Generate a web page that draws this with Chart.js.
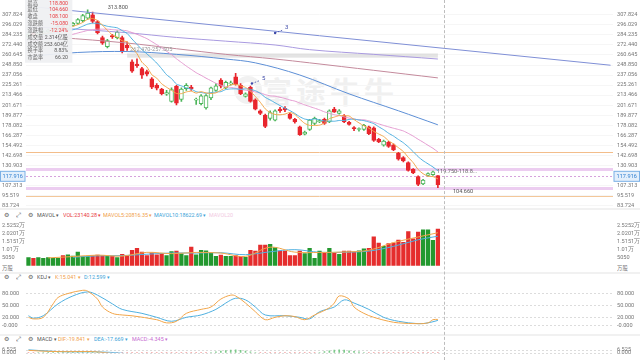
<!DOCTYPE html>
<html><head><meta charset="utf-8">
<script src="https://cdn.jsdelivr.net/npm/chart.js@4.4.1/dist/chart.umd.min.js"></script>
<style>
html,body{margin:0;padding:0}
body{width:640px;height:360px;overflow:hidden;background:#fff;position:relative;font-family:Roboto,"Noto Sans CJK SC",sans-serif}
canvas{position:absolute;left:0}
.hdr{position:absolute;left:0;width:640px;height:10px;font-size:6px;line-height:10px;color:#666;white-space:nowrap}
.hdr span{position:absolute;top:0;transform:scale(0.9);transform-origin:0 50%}
.sep{position:absolute;left:0;width:640px;height:2px;background:#f1f1f1}
#info{position:absolute;left:25px;top:0;width:55px;height:73px;background:rgba(239,240,242,0.94);font-size:6px;color:#666;transform:scale(0.86);transform-origin:0 0}
#info div{position:absolute;left:3px;width:47px;height:8px;line-height:8px;white-space:nowrap}
#info b{font-weight:normal;position:absolute;right:0;top:0}
#wm{position:absolute;left:262px;top:70px;font-size:30px;line-height:40px;color:#f0f0f0;letter-spacing:4px;font-family:"Noto Sans CJK SC";font-weight:bold}
#logo{position:absolute;left:234px;top:76px;width:16px;height:16px;border:6px solid #f1f1f1;border-radius:50%}
#cross{position:absolute;top:0;height:360px;width:0;border-left:1px dashed #bdbdbd}
</style></head><body>
<div id="logo"></div><div id="wm">富途牛牛</div>
<div class="sep" style="top:208px"></div>
<div class="sep" style="top:272px"></div>
<div class="sep" style="top:334px"></div>
<div class="hdr" style="top:210px"><span style="left:4px;font-size:7px">⚙</span><span style="left:16px;font-size:7px">⤢</span><span style="left:28px;font-size:7px">⚙</span><span style="left:37px;color:#555">MAVOL ▾</span><span style="left:63px;color:#e8383d">VOL:23140.28 ▾</span><span style="left:103px;color:#f0a04b">MAVOL5:20816.35 ▾</span><span style="left:154px;color:#3ba3d8">MAVOL10:18622.69 ▾</span><span style="left:209px;color:#f2c9e2">MAVOL20</span></div>
<div class="hdr" style="top:272px"><span style="left:4px;font-size:7px">⚙</span><span style="left:16px;font-size:7px">⤢</span><span style="left:28px;font-size:7px">⚙</span><span style="left:37px;color:#555">KDJ ▾</span><span style="left:55px;color:#f0a04b">K:15.041 ▾</span><span style="left:84px;color:#3ba3d8">D:12.599 ▾</span></div>
<div class="hdr" style="top:334px"><span style="left:4px;font-size:7px">⚙</span><span style="left:16px;font-size:7px">⤢</span><span style="left:28px;font-size:7px">⚙</span><span style="left:37px;color:#555">MACD ▾</span><span style="left:58px;color:#f0a04b">DIF:-19.841 ▾</span><span style="left:94px;color:#3ba3d8">DEA:-17.669 ▾</span><span style="left:132px;color:#c66bd0">MACD:-4.345 ▾</span></div>
<div class="hdr" style="top:263px;width:auto;left:2px;color:#777"><span style="left:0">万股</span></div>
<div class="hdr" style="top:263px;width:auto;left:617px;color:#777"><span style="left:0">万股</span></div>
<canvas id="cMain" width="640" height="214" style="top:0"></canvas>
<canvas id="cVol" width="640" height="57" style="top:216px"></canvas>
<canvas id="cKdj" width="640" height="56" style="top:279px"></canvas>
<canvas id="cMacd" width="640" height="19" style="top:341px"></canvas>
<div id="info"></div>
<div id="cross"></div>
<script>
// ---------------- data ----------------
const N_SLOTS = 119;
const opens  = [282,286,283,286,288,289.5,291.5,294,291,295.5, 297.9,301,304,308,300,281,270.5,283.5,281,281, 272,252.5,250,244.8,241,232.6,225,220.5,214.5,206, 223.8,208.3,221,223,207.5,203.5,198.5,210,219,231, 222,226.5,235,225,212,222.7,208,195,190,186, 184,197,198,191,185,176,167.5,173,180,182, 185,182,197,192,189.5,181.5,175,173,173,176, 175,161.5,154.5,158,155,145,140,134,126,117.5, 109,119,120,118.8];
const highs  = [286.5,287,287,289.5,291,293,295,295.5,297,299, 303.4,308.5,313.8,311,301,283,279,285,289,283, 276,255,256,246,243,234,227,221.5,219,222, 225,222,227,225,210,214,214,223,227,233, 230,230,239,227,216,224,209,196,191,195, 196,199,200,192,186,177,171,185,187.5,185, 186.5,196,199,196.5,190.5,182.5,176.5,175,179,177, 176,162.5,160.5,159,156,146,141,135,127,118.5, 114.5,122,124,118.8];
const lows   = [281,282,282,285,287,289,290.5,290,290,294.5, 296.8,299.5,302.5,298.5,285.5,273,269,280,279.5,263, 266,240,246,233,236,221,219.5,213.8,213,205, 202,206,219,219,202.5,202,197,208,218,222, 221,225,225,214,211,205,196,190.5,175,184, 183,193,194,185,180.5,166,166.5,172,178.5,181, 179,181,193,191,181,178,171.5,171,172,167, 159,157.5,153.5,152,148,137,135,124,121,107, 108,118,119,104.66];
const closes = [285,283,286,288,290,292,294,291,296,298, 302.3,307,310,300,287,274.5,277.5,282,287.5,265, 269,241.5,248,237,238,222.7,221.5,215,216.5,220, 203.9,220.5,225,221,208.5,212.5,213,222,224.5,224, 228.5,228,226,215,215,206,197,192,176.5,193, 195,195,196,186,182,167,170,184,186,183.5, 180,195,193.5,195,182,179,174,174,178,168, 160,158.5,159.5,153,149,138,136,125,122,108.5, 113.5,121,123.18,108.1];
const volumes = [5050,4700,5050,4700,5050,4700,4700,6400,6900,6060, 8585,5900,5900,6200,6700,6200,5900,5900,5050,7200, 6400,9750,10960,8585,6400,8080,6900,7575,6400,8940, 9240,7575,6400,11770,6900,9750,9440,8080,5900,6700, 5900,5900,6400,5900,5200,9750,9240,12980,12980,13480, 11460,9240,9240,6400,6400,9240,7575,10960,4700,9240, 8080,10960,7730,7220,9240,9240,8585,9440,10600,10960, 18180,14300,12270,13990,14300,16160,14800,21560,17000,21210, 22720,22720,16000,23140.28];
const ma5  = [284,284,284.5,285.5,286.4,287.8,290,291,292.6,294.2,296.3,298.9,302.7,303.5,301.3,295.7,289.8,284.2,281.7,277.3,276.2,269,262.2,252.1,246.7,237.4,233.4,226.8,222.7,219.1,215.4,215.2,217.2,218.1,215.8,217.5,216,215.4,216.1,219.2,222.4,225.4,226.2,224.3,222.5,218,211.8,205,197.3,192.9,190.7,190.3,191.1,193,190.8,185.2,180.2,177.8,177.8,178.1,180.7,185.7,187.6,189.4,189.1,188.9,184.7,180.8,177.4,174.6,170.8,167.7,164.8,159.8,156,151.6,147.1,140.2,134,125.9,121,118,117.6,114.9];
const ma10 = [283,283.5,284,284.5,285.5,286.5,287.5,288.5,289.5,290.3,292,294.5,296.9,298,297.8,296,294.4,293.5,292.6,289.3,286,279.4,273.2,266.9,262,256.8,251.2,244.5,237.4,232.9,226.4,224.3,222,220.4,217.5,216.5,215.6,216.3,217.1,217.5,220,220.7,220.8,220.2,220.9,220.2,218.6,215.6,210.8,207.7,204.4,201.1,198.1,195.2,191.9,188,185.3,184.5,185.4,184.5,183,183,182.7,183.6,183.6,184.8,185.2,184.2,183.4,181.9,179.9,176.2,172.8,168.6,165.3,161.2,157.4,152.5,146.9,141,136.3,132.6,128.9,124.5];
const ma20 = [276,277,278,279,280,281,282,283,284,285,286.5,288,289.5,290.5,291,291,291,290.5,290,289.8,289,287,285,282.5,279.9,276.4,272.8,269,265,261.1,256.2,251.9,247.6,243.7,239.8,236.7,233.4,230.4,227.3,225.2,223.2,222.5,221.4,220.3,219.2,218.4,217.1,216,214,212.6,212.2,210.9,209.5,207.7,206.4,204.1,202,200,198.1,196.1,193.7,192,190.4,189.4,187.8,186.4,185.3,184.4,184.4,183.2,181.5,179.6,177.8,176.1,174.5,173,171.3,168.4,165.2,161.5,158.1,154.4,150.9,146.6];
const ma60Idx  = [0,10,20,30,40,46,55,65,75,83];
const ma60Val  = [259,263.6,264.7,261.4,255.9,251.4,237.1,214.9,195,178.5];
const ma120Idx = [0,6,20,30,40,50,57,70,83];
const ma120Val = [283.5,281.3,274.7,268,261.4,255.9,251.4,242.6,233.7];
const ma250Idx = [0,6,20,30,40,50,57,70,83];
const ma250Val = [293.4,292.3,286.8,281.3,276.9,272.4,266.9,261.4,255.9];
const trendIdx = [0,118];
const trendVal = [318,248.6];
const levels = [146.1,126.8,104.4,95.2];
const band = {from:20,to:83,low:257.505,high:262.47};
const lastPrice = 117.916;
const priceTicks = [307.824,296.029,284.235,272.440,260.645,248.850,237.056,225.261,213.466,201.671,189.877,178.082,166.287,154.492,142.698,130.903,107.313,95.519,83.724];
const volTicks = [5050,10100,15151,20201,25252];
const volTickLabels = ['5050','1.01万','1.5151万','2.0201万','2.5252万'];
const mavol5Idx = [4,9,14,19,24,29,34,39,44,49,54,59,64,69,74,79,83];
const mavol5Val = [4910,5752,6657,6050,8419,7579,8377,7974,5860,11686,8548,8343,8646,9765,14608,18146,20816.35];
const mavol10Idx = [9,14,19,24,29,34,39,44,49,54,59,64,69,74,79,83];
const mavol10Val = [5331,6205,6354,7235,7999,7978,8176,6917,8773,10117,8446,8495,9206,12187,16377,18622.69];
const kIdx = [0,1,3,5,6,8,11,12,14,15,17,19,21,26,28,30,32,35,37,39,41,42,44,46,48,50,52,54,56,58,61,62,63,65,66,68,70,73,75,79,81,82,83];
const kVal = [20.2,16.3,20.2,53.5,69.2,79,86.9,84.9,65.3,45.7,30,26,24,14.3,6.5,10.4,30,39.8,45.7,65.3,75,73,55.5,34,14.3,20.2,24.1,22,14.3,26,43.7,55.5,73,65.3,45.7,30,20.2,10.4,6.5,4.5,6.5,14.3,15.041];
const dIdx = [0,1,3,6,9,12,14,17,19,23,26,29,32,35,38,40,42,44,46,48,52,55,57,59,62,64,66,69,72,75,79,81,83];
const dVal = [24.1,18.2,24.1,53.5,73,83,75,53.5,39.8,30,20.2,10.4,20.2,26,39.8,55.5,67.3,63.3,45.7,26,24.1,20.2,16.3,34,45.7,63.3,55.5,39.8,20.2,10.4,4.5,6.5,12.599];
const kdjTicks = [0,20,50,80];
const kdjTickLabels = ['-0.000','20.000','50.000','80.000'];
const macdHist = [-0.5,-0.3,0,0.2,0.5,0.8,1.1,1.4,1.7,2.0,2.3,2.5,2.2,1.4,0.4,-1.5,-3,-4,-4.5,-5.5,-6,-7.5,-8,-8.5,-8.5,-9,-8.5,-8,-7,-6,-6,-5,-4,-3,-2.5,-1.5,-0.5,0.1,1.7,3.6,5.1,6.3,7.0,5.8,4.0,1.7,0.1,-1.5,-3.5,-4,-4,-3.5,-3,-3.5,-4,-5,-5,-4,-2,0.1,2.4,4.6,6.3,7.0,6.3,4.6,3.2,1.7,0.1,-1.5,-3,-4,-4.5,-5,-5.5,-6.5,-7,-8,-8,-9,-7.5,-6,-5,-4.345];
const difIdx = [0,4,8,12,14,16,20,25,35,45,55,65,75,83];
const difVal = [5.5,3,2.2,2.6,1.5,-1,-8,-18,-22,-16,-20,-14,-22,-19.841];
const deaIdx = [0,4,8,12,14,16,18,20,25,35,45,55,65,75,83];
const deaVal = [6.8,3.8,1.6,1.7,1.6,0.8,-0.5,-3,-12,-20,-18,-18,-17,-18,-17.669];
const macdTicks = [0,6.525];
const macdTickLabels = ['0.000','6.525'];
const infoLabels = ['最高','最低','收盘','涨跌额','涨跌幅','成交量','成交额','换手率','市盈率'];
const infoValues = ['118.800','104.660','108.100','-15.080','-12.24%','2.314亿股','253.604亿','8.83%','66.20'];
const infoRed = [1,1,1,1,1,0,0,0,0];

// ---------------- helpers ----------------
const RED='#e8262d', HGREEN='#4cb55a';
const labels = Array.from({length:N_SLOTS},(_,i)=>String(i));
const pad = arr => { const a=new Array(N_SLOTS).fill(null); arr.forEach((v,i)=>a[i]=v); return a; };
const sparse = (idx,val) => { const a=new Array(N_SLOTS).fill(null); idx.forEach((k,j)=>a[k]=val[j]); return a; };
const up = closes.map((c,i)=>c>=opens[i]);
const FONT = {family:'Roboto', size:5.6};
const TICKC = '#777';
const lineDs = (data,color,extra={}) => Object.assign({type:'line',data,borderColor:color,borderWidth:1,pointRadius:0,tension:0.35,spanGaps:true,fill:false,order:-1},extra);

function yAxis(pos,min,max,ticks,labelFn,extra={}){
  return Object.assign({
    position:pos,min,max,
    afterFit:s=>{s.width = pos==='left'?24:27;},
    afterBuildTicks:s=>{s.ticks = ticks.map(v=>({value:v}));},
    ticks:{autoSkip:false,font:FONT,color:TICKC,padding:pos==='left'?0:4,crossAlign:pos==='left'?'far':'near',callback:labelFn},
    grid:{display:false,drawTicks:false},
    border:{display:false}
  },extra);
}
const baseOpts = (pad) => ({
  responsive:false,animation:false,devicePixelRatio:1,
  layout:{padding:Object.assign({left:2,right:0,top:0,bottom:0},pad)},
  plugins:{legend:{display:false},tooltip:{enabled:false}},
});

// ---------------- main chart ----------------
const P_MAX = 316.67, P_MIN = 316.67 - 212/0.90436;
const mainPlugin = {
  id:'mainOverlay',
  beforeDatasetsDraw(chart){
    const {ctx,chartArea:a,scales:{x,y}} = chart;
    ctx.save();
    ctx.beginPath(); ctx.rect(a.left,a.top,a.right-a.left,a.bottom-a.top); ctx.clip();
    const bx0=x.getPixelForValue(band.from), bx1=x.getPixelForValue(band.to);
    const by0=y.getPixelForValue(band.high), by1=y.getPixelForValue(band.low);
    ctx.fillStyle='rgba(205,205,205,0.55)'; ctx.fillRect(bx0,by0,bx1-bx0,by1-by0);
    const lc=['#f3bd8a','#eccdf0','#eccdf0','#f3c79a'], lw=[1,3,3,1];
    levels.forEach((v,i)=>{const py=Math.round(y.getPixelForValue(v))+0.5;ctx.strokeStyle=lc[i];ctx.lineWidth=lw[i];ctx.beginPath();ctx.moveTo(a.left,py);ctx.lineTo(a.right,py);ctx.stroke();});
    const py=Math.round(y.getPixelForValue(lastPrice))+0.5;
    ctx.setLineDash([2,2]); ctx.strokeStyle='#d6a2dc'; ctx.lineWidth=1;
    ctx.beginPath();ctx.moveTo(a.left,py);ctx.lineTo(a.right,py);ctx.stroke();
    ctx.restore();
  },
  afterDatasetsDraw(chart){
    const {ctx,scales:{x,y}} = chart;
    ctx.save();
    ctx.font='5.6px Roboto'; ctx.textBaseline='middle';
    const hiIdx = highs.indexOf(Math.max(...highs));
    ctx.fillStyle='#555'; ctx.fillText(Math.max(...highs).toFixed(3), x.getPixelForValue(hiIdx)+20, y.getPixelForValue(Math.max(...highs))-2);
    ctx.fillStyle='#999'; ctx.fillText(band.high.toFixed(3)+'-'+band.low.toFixed(3), x.getPixelForValue(band.from)+3, y.getPixelForValue(band.high)-4);
    const L = closes.length-1;
    ctx.fillStyle='#666'; ctx.fillText('119.750-118.8...', x.getPixelForValue(L)-1, y.getPixelForValue(119.75)-3);
    ctx.fillStyle='#555'; ctx.fillText(lows[L].toFixed(3), x.getPixelForValue(L)+15, y.getPixelForValue(lows[L])+4);
    const tAt = k => trendVal[0]+(trendVal[1]-trendVal[0])*(k-trendIdx[0])/(trendIdx[1]-trendIdx[0]);
    const marks=[{k:50,v:tAt(50)-2,t:'3'},{k:45.3,v:227.1,t:'5'}];
    marks.forEach(m=>{const px=x.getPixelForValue(m.k),py=y.getPixelForValue(m.v);
      ctx.fillStyle='#3e4aa8';ctx.beginPath();ctx.arc(px,py,1.2,0,Math.PI*2);ctx.fill();
      ctx.strokeStyle='#3e4aa8';ctx.setLineDash([1.5,1.5]);ctx.lineWidth=0.8;ctx.beginPath();ctx.moveTo(px,py);ctx.lineTo(px+8,py-3);ctx.stroke();ctx.setLineDash([]);
      ctx.font='6px Roboto';ctx.fillText(m.t,px+10,py-5);});
    ctx.restore();
  },
  afterDraw(chart){
    const {ctx,chartArea:a,scales:{y}} = chart;
    const py=y.getPixelForValue(lastPrice);
    ctx.save(); ctx.font='5.6px Roboto'; ctx.textBaseline='middle'; ctx.textAlign='center';
    [[0.5,a.left-1],[a.right+1,639.5]].forEach(([l,r])=>{
      ctx.fillStyle='#e3effb';ctx.fillRect(l,py-5,r-l,10);
      ctx.strokeStyle='#7ab0e6';ctx.lineWidth=1;ctx.strokeRect(l,py-5,r-l,10);
      ctx.fillStyle='#2f7fd0';ctx.fillText(lastPrice.toFixed(3),(l+r)/2,py);
    });
    ctx.restore();
  }
};
const mainChart = new Chart(document.getElementById('cMain'),{
  type:'bar',
  data:{labels,datasets:[
    {data:pad(opens.map((o,i)=>[o,closes[i]])),backgroundColor:up.map(u=>u?'#ffffff':RED),borderColor:up.map(u=>u?HGREEN:RED),borderWidth:1,borderSkipped:false,barThickness:4,minBarLength:1,grouped:false,order:1},
    {data:pad(lows.map((l,i)=>[l,highs[i]])),backgroundColor:up.map(u=>u?HGREEN:RED),barThickness:1,grouped:false,order:2},
    lineDs(pad(ma5),'#f2a64a',{tension:0.2}),
    lineDs(pad(ma10),'#4fb0e0',{tension:0.2}),
    lineDs(pad(ma20),'#e49ad0',{tension:0.2}),
    lineDs(sparse(ma60Idx,ma60Val),'#5d8fd6'),
    lineDs(sparse(ma120Idx,ma120Val),'#c48a9c'),
    lineDs(sparse(ma250Idx,ma250Val),'#a99ae0'),
    lineDs(sparse(trendIdx,trendVal),'#7f8fd6',{tension:0}),
  ]},
  options:Object.assign(baseOpts({bottom:2}),{
    scales:{
      x:{display:false,offset:true},
      y:yAxis('left',P_MIN,P_MAX,priceTicks,v=>v.toFixed(3),{grid:{display:true,color:'#f6f6f6',drawTicks:false}}),
      y2:yAxis('right',P_MIN,P_MAX,priceTicks,v=>v.toFixed(3)),
    }
  }),
  plugins:[mainPlugin]
});

// ---------------- volume ----------------
const V_MAX = 26765;
new Chart(document.getElementById('cVol'),{
  type:'bar',
  data:{labels,datasets:[
    {data:pad(volumes),backgroundColor:up.map(u=>u?'#23982f':'#e52d2d'),barThickness:3.6,order:1},
    lineDs(sparse(mavol5Idx,mavol5Val),'#f2a64a'),
    lineDs(sparse(mavol10Idx,mavol10Val),'#4fb0e0'),
  ]},
  options:Object.assign(baseOpts({top:2,bottom:2}),{
    scales:{
      x:{display:false,offset:true},
      y:yAxis('left',0,V_MAX,volTicks,v=>volTickLabels[volTicks.indexOf(v)]),
      y2:yAxis('right',0,V_MAX,volTicks,v=>volTickLabels[volTicks.indexOf(v)]),
    }
  })
});

const dashGrid = ticks => ({id:'dg',beforeDatasetsDraw(chart){
  const {ctx,chartArea:a,scales:{y}}=chart; ctx.save(); ctx.strokeStyle='#dcdcdc'; ctx.lineWidth=1; ctx.setLineDash([2,2]);
  ticks.forEach(v=>{const py=Math.round(y.getPixelForValue(v))+0.5; ctx.beginPath(); ctx.moveTo(a.left,py); ctx.lineTo(a.right,py); ctx.stroke();});
  ctx.restore();}});

// ---------------- KDJ ----------------
const K_MIN=-5.3, K_MAX=96.7;
new Chart(document.getElementById('cKdj'),{
  type:'line',
  data:{labels,datasets:[
    lineDs(sparse(kIdx,kVal),'#f2a64a'),
    lineDs(sparse(dIdx,dVal),'#4fb0e0'),
  ]},
  options:Object.assign(baseOpts({top:2,bottom:2}),{
    scales:{
      x:{display:false,offset:true},
      y:yAxis('left',K_MIN,K_MAX,kdjTicks,v=>kdjTickLabels[kdjTicks.indexOf(v)]),
      y2:yAxis('right',K_MIN,K_MAX,kdjTicks,v=>kdjTickLabels[kdjTicks.indexOf(v)]),
    }
  }),
  plugins:[dashGrid(kdjTicks)]
});

// ---------------- MACD ----------------
const M_MIN=-0.2, M_MAX=10.49;
new Chart(document.getElementById('cMacd'),{
  type:'bar',
  data:{labels,datasets:[
    {data:pad(macdHist),backgroundColor:macdHist.map(v=>v>=0?'#7cc98a':'#ef7a7a'),barThickness:1,order:1},
    lineDs(sparse(difIdx,difVal),'#f2a64a'),
    lineDs(sparse(deaIdx,deaVal),'#4fb0e0'),
  ]},
  options:Object.assign(baseOpts({top:2}),{
    scales:{
      x:{display:false,offset:true},
      y:yAxis('left',M_MIN,M_MAX,macdTicks,v=>macdTickLabels[macdTicks.indexOf(v)]),
      y2:yAxis('right',M_MIN,M_MAX,macdTicks,v=>macdTickLabels[macdTicks.indexOf(v)]),
    }
  }),
  plugins:[dashGrid(macdTicks)]
});

// ---------------- info box + crosshair ----------------
const info = document.getElementById('info');
infoLabels.forEach((l,i)=>{
  const d=document.createElement('div'); d.style.top=(i*7.9-0.5)+'px';
  d.innerHTML = l+'<b style="color:'+(infoRed[i]?'#e8383d':'#555')+'">'+infoValues[i]+'</b>';
  info.appendChild(d);
});
document.getElementById('cross').style.left = Math.round(mainChart.scales.x.getPixelForValue(closes.length+0.2))+'px';
</script>
</body></html>
